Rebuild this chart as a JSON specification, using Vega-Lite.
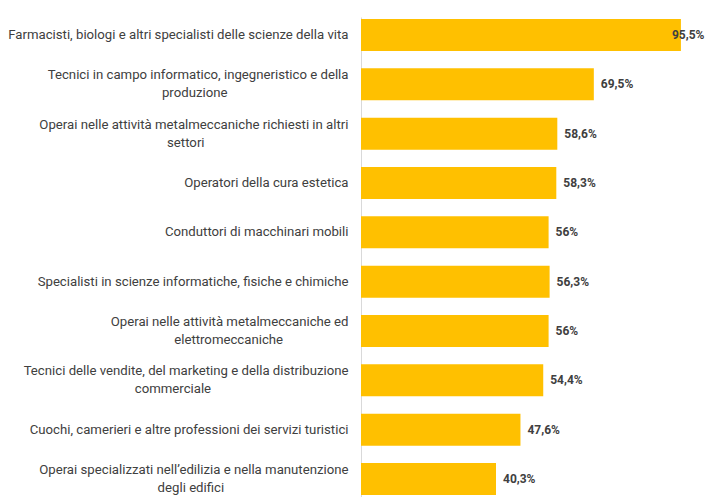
{
  "$schema": "https://vega.github.io/schema/vega-lite/v6.json",
  "autosize": "none",
  "padding": {"left": 361, "top": 17, "right": 14, "bottom": 0},
  "width": 335,
  "height": 480,
  "background": "white",
  "config": {"view": {"stroke": null}, "font": "Liberation Sans Narrow, Roboto"},
  "data": {
    "values": [
      {"professione": "Farmacisti, biologi e altri specialisti delle scienze della vita", "valore": 95.5, "etichetta": "95,5%"},
      {"professione": "Tecnici in campo informatico, ingegneristico e della\nproduzione", "valore": 69.5, "etichetta": "69,5%"},
      {"professione": "Operai nelle attività metalmeccaniche richiesti in altri\nsettori", "valore": 58.6, "etichetta": "58,6%"},
      {"professione": "Operatori della cura estetica", "valore": 58.3, "etichetta": "58,3%"},
      {"professione": "Conduttori di macchinari mobili", "valore": 56.0, "etichetta": "56%"},
      {"professione": "Specialisti in scienze informatiche, fisiche e chimiche", "valore": 56.3, "etichetta": "56,3%"},
      {"professione": "Operai nelle attività metalmeccaniche ed\nelettromeccaniche", "valore": 56.0, "etichetta": "56%"},
      {"professione": "Tecnici delle vendite, del marketing e della distribuzione\ncommerciale", "valore": 54.4, "etichetta": "54,4%"},
      {"professione": "Cuochi, camerieri e altre professioni dei servizi turistici", "valore": 47.6, "etichetta": "47,6%"},
      {"professione": "Operai specializzati nell’edilizia  e nella manutenzione\ndegli edifici", "valore": 40.3, "etichetta": "40,3%"}
    ]
  },
  "encoding": {
    "y": {
      "field": "professione",
      "type": "nominal",
      "sort": null,
      "title": null,
      "scale": {"paddingInner": 0.35, "paddingOuter": 0.04},
      "axis": {
        "domain": true,
        "domainColor": "#d9d9d9",
        "domainWidth": 1,
        "ticks": false,
        "grid": false,
        "labelPadding": 13,
        "labelColor": "#404040",
        "labelFontSize": 13.2,
        "labelLimit": 0,
        "labelLineHeight": 18,
        "labelOffset": {"condition": {"test": "indexof(datum.value, '\\n') >= 0", "value": -9}, "value": 0},
        "labelExpr": "length(split(datum.value, '\\n')) > 1 ? [split(datum.value, '\\n')[0], pad(split(datum.value, '\\n')[1], length(split(datum.value, '\\n')[1]) + floor(0.9 * (length(split(datum.value, '\\n')[0]) - length(split(datum.value, '\\n')[1]))), '\u00a0') + '\u200b'] : datum.value"
      }
    }
  },
  "layer": [
    {
      "mark": {"type": "bar", "color": "#FFC000"},
      "encoding": {
        "x": {"field": "valore", "type": "quantitative", "scale": {"domain": [0, 100]}, "axis": null}
      }
    },
    {
      "mark": {
        "type": "text",
        "align": "left",
        "baseline": "middle",
        "dx": {"expr": "datum.valore > 90 ? -9 : 7"},
        "fontWeight": "bold",
        "fontSize": 12,
        "color": "#404040"
      },
      "encoding": {
        "x": {"field": "valore", "type": "quantitative"},
        "text": {"field": "etichetta"}
      }
    }
  ]
}
